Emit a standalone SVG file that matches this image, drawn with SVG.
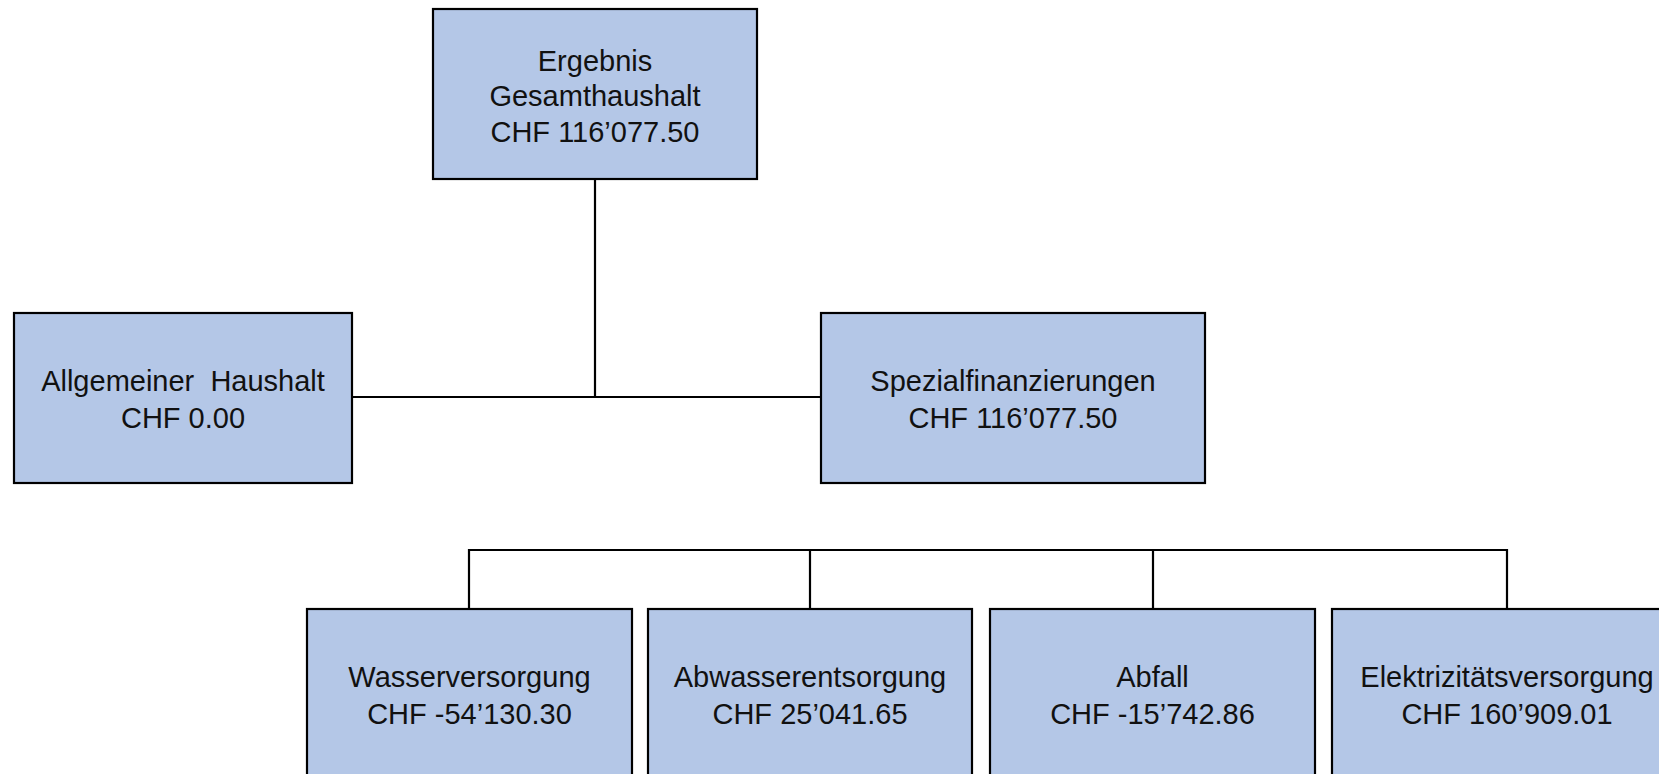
<svg xmlns="http://www.w3.org/2000/svg" width="1659" height="774" viewBox="0 0 1659 774">
<style>
.box{fill:#B4C7E7;stroke:#000;stroke-width:2.2}
.t{font-family:"Liberation Sans",Arial,sans-serif;font-size:29px;fill:#111;text-anchor:middle}
.c{fill:none;stroke:#000;stroke-width:2.2}
</style>
<rect width="1659" height="774" fill="#fff"/>
<g id="connectors">
<path class="c" d="M595 180 V397 M352 397 H821"/>
<path class="c" d="M469 609 V550 H1507 V609 M810 550 V609 M1153 550 V609"/>
</g>
<g id="n-gesamt">
<rect class="box" x="433" y="9" width="324" height="170"/>
<text class="t" x="595" y="71">Ergebnis</text>
<text class="t" x="595" y="106">Gesamthaushalt</text>
<text class="t" x="595" y="142">CHF 116’077.50</text>
</g>
<g id="n-allgemein">
<rect class="box" x="14" y="313" width="338" height="170"/>
<text class="t" x="183" y="391">Allgemeiner&#160; Haushalt</text>
<text class="t" x="183" y="428">CHF 0.00</text>
</g>
<g id="n-spezial">
<rect class="box" x="821" y="313" width="384" height="170"/>
<text class="t" x="1013" y="391">Spezialfinanzierungen</text>
<text class="t" x="1013" y="428">CHF 116’077.50</text>
</g>
<g id="n-wasser">
<rect class="box" x="307" y="609" width="325" height="170"/>
<text class="t" x="469.5" y="687">Wasserversorgung</text>
<text class="t" x="469.5" y="724">CHF -54’130.30</text>
</g>
<g id="n-abwasser">
<rect class="box" x="648" y="609" width="324" height="170"/>
<text class="t" x="810" y="687">Abwasserentsorgung</text>
<text class="t" x="810" y="724">CHF 25’041.65</text>
</g>
<g id="n-abfall">
<rect class="box" x="990" y="609" width="325" height="170"/>
<text class="t" x="1152.5" y="687">Abfall</text>
<text class="t" x="1152.5" y="724">CHF -15’742.86</text>
</g>
<g id="n-elektrizitaet">
<rect class="box" x="1332" y="609" width="350" height="170"/>
<text class="t" x="1507" y="687">Elektrizitätsversorgung</text>
<text class="t" x="1507" y="724">CHF 160’909.01</text>
</g>
</svg>
